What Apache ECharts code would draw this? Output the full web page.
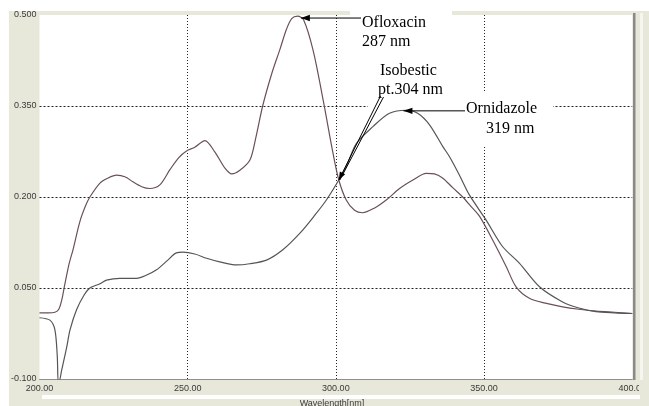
<!DOCTYPE html>
<html><head><meta charset="utf-8">
<script src="https://cdn.jsdelivr.net/npm/echarts@6/dist/echarts.min.js"></script>
<style>html,body{margin:0;padding:0;background:#fff}#c{width:649px;height:406px}</style>
</head><body><div id="c"></div>
<script>
// ---- data ----
const xTicks = [200, 250, 300, 350, 400];
const yTicks = [-0.1, 0.05, 0.2, 0.35, 0.5];
const xGridValues = [250, 300, 350];
const yGridValues = [0.05, 0.2, 0.35];

const oflxWl  = [200, 203, 205.2, 206.5, 207.5, 208.5, 210, 211.3, 213.6, 215.5, 217.0, 220.4, 223, 226.0, 229, 231.5, 234.5, 237.2, 240.6, 244.0, 247, 249.6, 252.4, 255.8, 259.2, 262.5, 264.9, 267.6, 271.0, 273, 275.3, 278.4, 281.1, 283.3, 285.1, 287.1, 289.1, 292.3, 295.7, 299.0, 301.0, 303.5, 306.3, 309.0, 313.1, 317.0, 321.5, 326.0, 330.5, 333.3, 336.1, 339.5, 342.8, 345.5, 348.5, 352.9, 357.5, 360.8, 365.3, 370.7, 376.5, 382, 387.8, 394, 400];
const oflxAbs = [0.009, 0.009, 0.010, 0.015, 0.030, 0.055, 0.090, 0.113, 0.159, 0.185, 0.200, 0.223, 0.231, 0.236, 0.233, 0.225, 0.217, 0.214, 0.220, 0.245, 0.265, 0.276, 0.282, 0.293, 0.274, 0.248, 0.238, 0.244, 0.261, 0.298, 0.350, 0.404, 0.443, 0.476, 0.494, 0.498, 0.492, 0.442, 0.360, 0.273, 0.228, 0.195, 0.178, 0.174, 0.182, 0.195, 0.214, 0.228, 0.239, 0.238, 0.231, 0.215, 0.200, 0.185, 0.168, 0.129, 0.085, 0.052, 0.033, 0.025, 0.019, 0.015, 0.012, 0.010, 0.008];

const ornWl  = [200, 203.5, 205.2, 206.0, 206.3, 206.6, 207.5, 208.0, 209.2, 210.3, 212.5, 215.0, 217.0, 220.4, 222.6, 227.1, 232.8, 236, 239.5, 243.3, 246.2, 248.4, 252.4, 256.4, 260.8, 266.5, 270.9, 276.6, 282.1, 287.8, 292.9, 296.8, 301.0, 303.5, 306.9, 312.5, 318.1, 323.8, 327.6, 331.6, 336.1, 338.4, 341.7, 345.1, 350.7, 356.3, 361.9, 368.7, 376.5, 382, 387.8, 394, 400];
const ornAbs = [0.001, -0.003, -0.019, -0.063, -0.104, -0.104, -0.085, -0.074, -0.047, -0.019, 0.014, 0.038, 0.050, 0.057, 0.063, 0.066, 0.066, 0.071, 0.080, 0.096, 0.108, 0.109, 0.106, 0.099, 0.093, 0.088, 0.090, 0.096, 0.113, 0.140, 0.170, 0.195, 0.228, 0.250, 0.288, 0.316, 0.338, 0.343, 0.338, 0.319, 0.283, 0.266, 0.236, 0.203, 0.162, 0.118, 0.091, 0.052, 0.027, 0.017, 0.011, 0.009, 0.008];

const annOfl = ['Ofloxacin', '287 nm'];
const annIso = ['Isobestic', 'pt.304 nm'];
const annOrn = ['Ornidazole', '319 nm'];
const tipOfl = [288.2, 0.495];
const tipIso = [301.0, 0.228];
const tipOrn = [322.8, 0.342];

// ---- chart ----
const chart = echarts.init(document.getElementById('c'), null, {renderer: 'canvas'});
const BEIGE = '#e7e7da';
const labelFont = {fontFamily: 'Liberation Sans', fontSize: 9, color: '#3a3a3a'};
const gridLine = (type) => ({color: '#222', width: 1, type: type});

const option = {
  animation: false,
  backgroundColor: BEIGE,
  grid: {left: 39.5, right: 15.5, top: 15, bottom: 27, show: true, backgroundColor: '#ffffff', borderWidth: 0},
  xAxis: {
    type: 'value', min: xTicks[0], max: xTicks[xTicks.length - 1], interval: 50,
    axisLine: {show: true, onZero: false, lineStyle: {color: '#8f8f8f', width: 1}},
    axisTick: {show: false},
    splitLine: {show: false},
    axisLabel: Object.assign({margin: 5, formatter: v => v.toFixed(2), showMinLabel: true, showMaxLabel: true}, labelFont)
  },
  yAxis: {
    type: 'value', min: yTicks[0], max: yTicks[yTicks.length - 1],
    axisLine: {show: false}, axisTick: {show: false}, splitLine: {show: false},
    axisLabel: Object.assign({margin: 3, customValues: yTicks, formatter: v => v.toFixed(3)}, labelFont)
  },
  series: [
    {
      type: 'line', data: [], z: 0, silent: true,
      markLine: {
        z: 0, silent: true, symbol: 'none', label: {show: false}, animation: false,
        data: [
          ...xGridValues.map(v => ({xAxis: v, lineStyle: gridLine([1, 2])})),
          ...yGridValues.map(v => ({yAxis: v, lineStyle: gridLine([2, 2])}))
        ]
      }
    },
    {
      name: 'Ofloxacin', type: 'line', z: 3, smooth: 0.3, showSymbol: false, symbol: 'none',
      lineStyle: {color: '#6b5056', width: 1.2},
      data: oflxWl.map((w, i) => [w, oflxAbs[i]])
    },
    {
      name: 'Ornidazole', type: 'line', z: 3, smooth: 0.3, showSymbol: false, symbol: 'none',
      lineStyle: {color: '#555555', width: 1.2},
      data: ornWl.map((w, i) => [w, ornAbs[i]])
    }
  ]
};
chart.setOption(option);

function px(p) { return chart.convertToPixel({gridIndex: 0}, p); }
function arrowHead(tip, tail, len, hw) {
  const dx = tip[0] - tail[0], dy = tip[1] - tail[1];
  const L = Math.hypot(dx, dy), ux = dx / L, uy = dy / L;
  const bx = tip[0] - ux * len, by = tip[1] - uy * len;
  return {type: 'polygon', z: 12, shape: {points: [tip, [bx - uy * hw, by + ux * hw], [bx + uy * hw, by - ux * hw]]}, style: {fill: '#000'}};
}
const serif = 'Liberation Serif';
function txt(s, x, y, align) {
  return {type: 'text', z: 12, x: x, y: y, style: {text: s, fill: '#000', font: '16px "' + serif + '"', textAlign: align || 'left', textVerticalAlign: 'middle'}};
}

const pOfl = px(tipOfl), pIso = px(tipIso), pOrn = px(tipOrn);
const tailOfl = [361, pOfl[1]];
const tailIso = [382, 96];
const tailOrn = [465, pOrn[1]];

const graphic = [
  // white page margins and strips
  {type: 'rect', z: 1, shape: {x: 0, y: 0, width: 649, height: 11}, style: {fill: '#fff'}},
  {type: 'rect', z: 1, shape: {x: 0, y: 0, width: 9, height: 406}, style: {fill: '#fff'}},
  {type: 'rect', z: 1, shape: {x: 42, y: 395, width: 598, height: 4}, style: {fill: '#fff'}},
  {type: 'rect', z: 1, shape: {x: 640, y: 13, width: 3, height: 382}, style: {fill: '#f6f6f0'}},
  // annotation boxes (white) covering gridlines
  {type: 'rect', z: 1, shape: {x: 350, y: 0, width: 102, height: 15}, style: {fill: '#fff'}},
  {type: 'rect', z: 1, shape: {x: 368, y: 58, width: 87, height: 49}, style: {fill: '#fff'}},
  {type: 'rect', z: 1, shape: {x: 455, y: 93, width: 98, height: 52}, style: {fill: '#fff'}},
  // right border of the plot
  {type: 'rect', z: 5, shape: {x: 633, y: 13, width: 2.5, height: 367}, style: {fill: '#8a8a8a'}},
  // clip of 400.00 label
  {type: 'rect', z: 20, shape: {x: 639, y: 380, width: 10, height: 15}, style: {fill: BEIGE}},
  // axis title
  {type: 'text', z: 12, x: 332, y: 399, style: {text: 'Wavelength[nm]', fill: '#3a3a3a', font: '9px "Liberation Sans"', textAlign: 'center', textVerticalAlign: 'top'}},
  // arrows
  {type: 'line', z: 12, shape: {x1: tailOfl[0], y1: tailOfl[1], x2: pOfl[0], y2: pOfl[1]}, style: {stroke: '#000', lineWidth: 1}},
  arrowHead(pOfl, tailOfl, 9, 3.2),
  {type: 'line', z: 12, shape: {x1: tailIso[0] - 1.5, y1: tailIso[1], x2: pIso[0], y2: pIso[1]}, style: {stroke: '#000', lineWidth: 1}},
  {type: 'line', z: 12, shape: {x1: tailIso[0] + 1.5, y1: tailIso[1] + 1, x2: pIso[0] + 1, y2: pIso[1]}, style: {stroke: '#000', lineWidth: 1}},
  arrowHead(pIso, tailIso, 8, 3),
  {type: 'line', z: 12, shape: {x1: tailOrn[0], y1: tailOrn[1], x2: pOrn[0], y2: pOrn[1]}, style: {stroke: '#000', lineWidth: 1}},
  arrowHead(pOrn, tailOrn, 9, 3.2),
  // texts
  txt(annOfl[0], 362, 23), txt(annOfl[1], 362, 42),
  txt(annIso[0], 380, 71), txt(annIso[1], 378, 90),
  txt(annOrn[0], 466, 109), txt(annOrn[1], 486, 129)
];
chart.setOption({graphic: graphic});
</script></body></html>
